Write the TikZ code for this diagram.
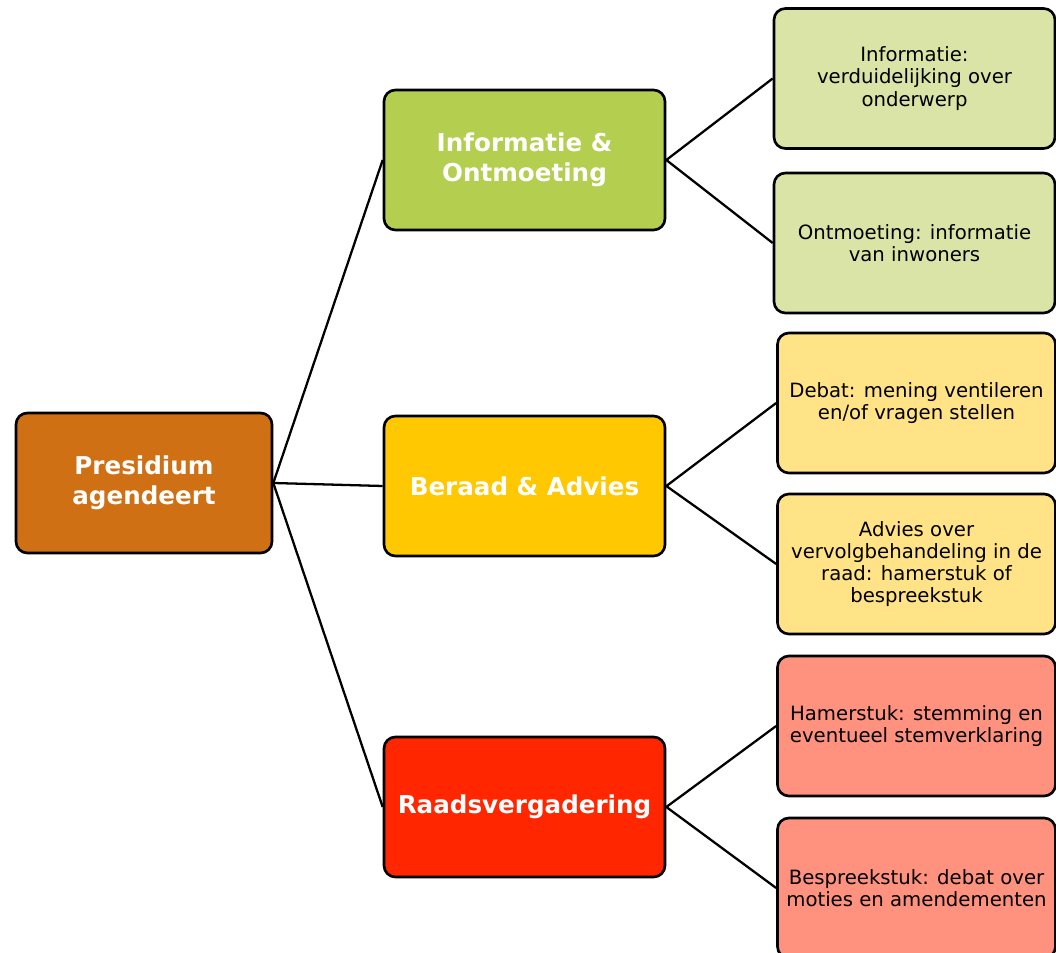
\documentclass[tikz,border=0pt]{standalone}
\usepackage{fontspec}
\setmainfont{DejaVu Sans}
\usepackage{tikz}
\usetikzlibrary{positioning}
\definecolor{rootorange}{RGB}{208,112,20}
\definecolor{midgreen}{RGB}{180,206,80}
\definecolor{midyellow}{RGB}{255,200,0}
\definecolor{midred}{RGB}{255,38,0}
\definecolor{leafgreen}{RGB}{218,228,166}
\definecolor{leafyellow}{RGB}{255,227,134}
\definecolor{leafred}{RGB}{255,145,127}
\tikzset{
    box/.style={draw, line width=1.5pt, rounded corners=6.5pt, align=center, inner sep=0pt}, % common look of every box
    rootbox/.style={box, fill=rootorange, text=white, minimum width=5.12cm, minimum height=2.8cm, font=\fontsize{14}{17}\selectfont\bfseries}, % the start box
    midbox/.style={box, text=white, minimum width=5.62cm, minimum height=2.8cm, font=\fontsize{14}{17}\selectfont\bfseries}, % the three meeting boxes
    leafbox/.style={box, text=black, minimum width=5.56cm, minimum height=2.8cm, font=\fontsize{11.2}{12.6}\selectfont}, % the explanation boxes
    link/.style={line width=1.3pt}, % the connecting lines
}
\begin{document}
\begin{tikzpicture}
    \useasboundingbox (0,0) rectangle (21.12,-19.06);
    \node[rootbox] (pres) at (2.88,-9.66) {Presidium\\agendeert};
    \node[midbox, fill=midgreen] (info) at (10.49,-3.2) {Informatie \&\\Ontmoeting};
    \node[midbox, fill=midyellow] (beraad) at (10.49,-9.72) {Beraad \& Advies};
    \node[midbox, fill=midred] (raad) at (10.49,-16.14) {Raadsvergadering};
    \node[leafbox, fill=leafgreen, minimum width=5.62cm] (infoA) at (18.29,-1.57) {Informatie:\\verduidelijking over\\onderwerp};
    \node[leafbox, fill=leafgreen, minimum width=5.62cm] (infoB) at (18.29,-4.86) {Ontmoeting: informatie\\van inwoners};
    \node[leafbox, fill=leafyellow] (beraadA) at (18.33,-8.06) {Debat: mening ventileren\\en/of vragen stellen};
    \node[leafbox, fill=leafyellow] (beraadB) at (18.33,-11.28) {Advies over\\vervolgbehandeling in de\\raad: hamerstuk of\\bespreekstuk};
    \node[leafbox, fill=leafred] (raadA) at (18.33,-14.52) {Hamerstuk: stemming en\\eventueel stemverklaring};
    \node[leafbox, fill=leafred] (raadB) at (18.33,-17.76) {Bespreekstuk: debat over\\moties en amendementen};
    \draw[link] (pres.east) edge (info.west)
    (pres.east) edge (beraad.west)
    (pres.east) edge (raad.west)
    (info.east) edge (infoA.west)
    (info.east) edge (infoB.west)
    (beraad.east) edge (beraadA.west)
    (beraad.east) edge (beraadB.west)
    (raad.east) edge (raadA.west)
    (raad.east) edge (raadB.west);
\end{tikzpicture}
\end{document}
